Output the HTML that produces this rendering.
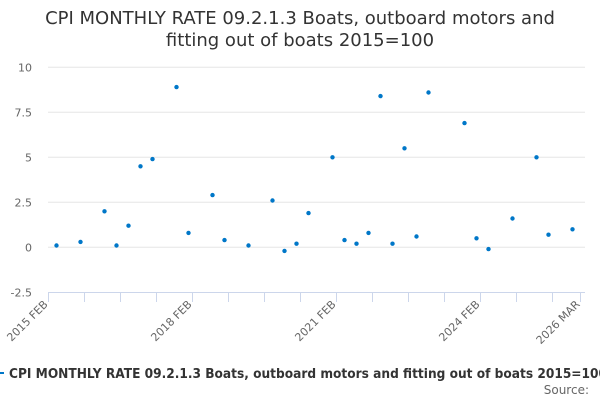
<!DOCTYPE html>
<html><head><meta charset="utf-8"><style>
html,body{margin:0;padding:0;background:#fff;width:600px;height:400px;overflow:hidden;font-family:"DejaVu Sans","Liberation Sans",sans-serif}
svg text{font-family:"DejaVu Sans","Liberation Sans",sans-serif}
</style></head><body>
<svg id="chart" width="600" height="400">
<text x="300" y="24" text-anchor="middle" font-size="18" fill="#333">CPI MONTHLY RATE 09.2.1.3 Boats, outboard motors and</text>
<text x="300" y="46" text-anchor="middle" font-size="18" fill="#333">fitting out of boats 2015=100</text>
<g id="grid"></g><g id="xaxis"></g><g id="pts"></g>
<g>
<line x1="0" y1="373" x2="4" y2="373" stroke="#0077c8" stroke-width="2"/>
<text x="9" y="378" font-size="13" font-weight="bold" fill="#333" textLength="598" lengthAdjust="spacingAndGlyphs">CPI MONTHLY RATE 09.2.1.3 Boats, outboard motors and fitting out of boats 2015=100</text>
</g>
<text x="589" y="394" text-anchor="end" font-size="12" fill="#666">Source:</text>
</svg>
<script>
// months since 2015 FEB
const months=[2,8,14,17,20,23,26,32,35,41,44,50,56,59,62,65,71,74,77,80,83,86,89,92,95,104,107,110,116,122,125,131];
const values=[0.1,0.3,2.0,0.1,1.2,4.5,4.9,8.9,0.8,2.9,0.4,0.1,2.6,-0.2,0.2,1.9,5.0,0.4,0.2,0.8,8.4,0.2,5.5,0.6,8.6,6.9,0.5,-0.1,1.6,5.0,0.7,1.0];
const yTicks=[-2.5,0,2.5,5,7.5,10];
const yTickLabels=["-2.5","0","2.5","5","7.5","10"];
const xTickMonths=[0,9,18,27,36,45,54,63,72,81,90,99,108,117,126,133];
const xLabelMonths=[0,36,72,108,133];
const xLabels=["2015 FEB","2018 FEB","2021 FEB","2024 FEB","2026 MAR"];
const NS="http://www.w3.org/2000/svg";
const xs=m=>48.5+4.0*m;
const ys=v=>247.3-18*v;
function mk(tag,attrs,parent){const e=document.createElementNS(NS,tag);for(const k in attrs)e.setAttribute(k,attrs[k]);parent.appendChild(e);return e;}
const grid=document.getElementById('grid'),xa=document.getElementById('xaxis'),pts=document.getElementById('pts');
yTicks.forEach((t,i)=>{
 if(t>-2.5){const l=mk('line',{x1:48,x2:585,y1:ys(t),y2:ys(t),stroke:'#e6e6e6','stroke-width':1},grid);
 
 }
 const tx=mk('text',{x:32,y:ys(t)+4,'text-anchor':'end','font-size':11,fill:'#666'},grid);
 tx.textContent=yTickLabels[i];
 
 
});
const ax=mk('line',{x1:48,x2:585,y1:292.5,y2:292.5,stroke:'#ccd6eb','stroke-width':1},xa);


xTickMonths.forEach(m=>{const t=mk('line',{x1:xs(m),x2:xs(m),y1:292.5,y2:302,stroke:'#ccd6eb','stroke-width':1},xa);
 
 });
xLabelMonths.forEach((m,i)=>{const x=xs(m),y=305;
 const t=mk('text',{x:x,y:y,'text-anchor':'end','font-size':11,fill:'#666',transform:`rotate(-45 ${x} ${y})`},xa);
 t.textContent=xLabels[i];
 
 });
months.forEach((m,i)=>{const c=mk('circle',{cx:xs(m),cy:ys(values[i]),r:2.2,fill:'#0077c8'},pts);
 
 });
</script>
</body></html>
